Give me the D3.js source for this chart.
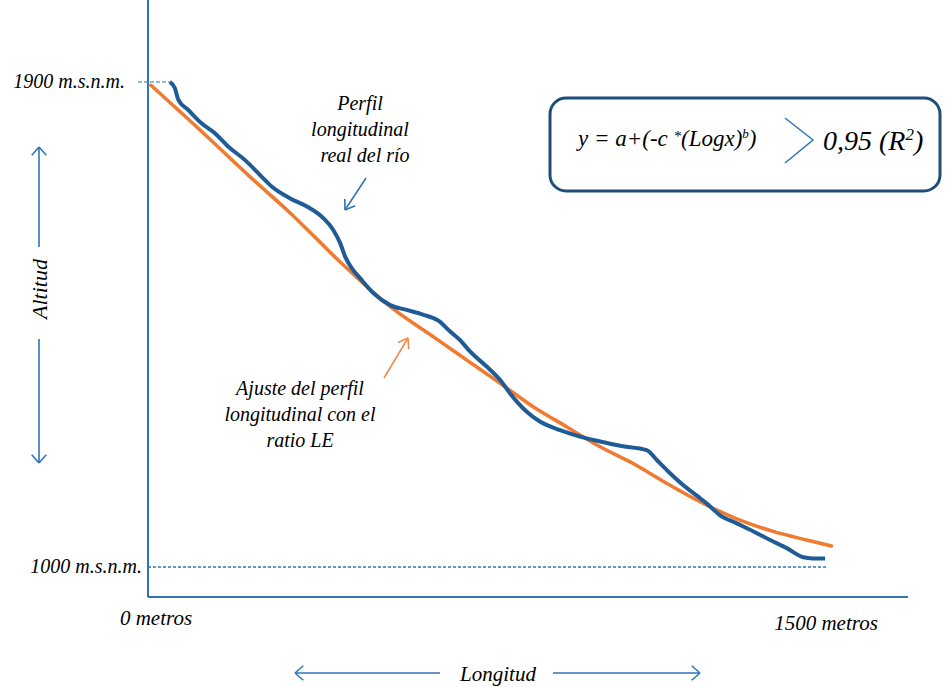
<!DOCTYPE html>
<html>
<head>
<meta charset="utf-8">
<script src="https://cdn.jsdelivr.net/npm/d3@7"></script>
<style>
  body { margin: 0; background: #fff; }
</style>
</head>
<body>
<div id="chart"></div>
<script>
// perfil longitudinal real del rio (metros, m.s.n.m.)
var distancia = [44, 55, 63, 85, 115, 144, 174, 211, 248, 270, 311, 348, 385, 407, 422, 433, 448, 466, 496, 533, 570,
  607, 640, 666, 688, 710, 747, 777, 799, 814, 836, 865, 910, 954, 999, 1043, 1102, 1124, 1154, 1183, 1217,
  1235, 1265, 1302, 1339, 1376, 1413, 1450, 1470, 1498];
var altitud = [1900, 1889, 1867, 1848, 1823, 1805, 1780, 1755, 1724, 1706, 1684, 1669, 1647, 1625, 1601, 1576, 1554, 1536, 1508, 1486, 1477,
  1468, 1457, 1437, 1421, 1400, 1372, 1347, 1322, 1307, 1288, 1270, 1254, 1242, 1233, 1225, 1217, 1199, 1174, 1152, 1130,
  1118, 1096, 1081, 1066, 1050, 1035, 1018, 1016, 1016];

// ajuste con el ratio LE
var ajusteDist = [2, 111, 222, 311, 422, 533, 629, 703, 777, 851, 925, 999, 1072, 1147, 1235, 1309, 1383, 1457, 1512];
var ajusteAlt = [1894, 1811, 1724, 1657, 1566, 1483, 1427, 1384, 1341, 1297, 1260, 1223, 1192, 1155, 1115, 1087, 1066, 1050, 1039];

var yTicks = [1900, 1000];
var yTickLabels = ["1900 m.s.n.m.", "1000 m.s.n.m."];
var xTicks = [0, 1500];
var xTickLabels = ["0 metros", "1500 metros"];

var width = 945, height = 687;
var FONT = "'Liberation Serif', 'Times New Roman', serif";

var svg = d3.select("#chart")
  .append("svg")
  .attr("width", width)
  .attr("height", height)
  .attr("font-family", FONT)
  .attr("font-style", "italic")
  .attr("fill", "#000");

var x = d3.scaleLinear().domain([0, 1500]).range([150, 826]);
var y = d3.scaleLinear().domain([1000, 1900]).range([567, 82]);

var axisBlue = "#2e75b6";

// reference lines for the two altitudes
svg.append("line")
  .attr("x1", x(0) - 12).attr("x2", x(distancia[0]))
  .attr("y1", y(1900)).attr("y2", y(1900))
  .attr("stroke", axisBlue).attr("stroke-width", 1.2)
  .attr("stroke-dasharray", "4,2");
svg.append("line")
  .attr("x1", x(0) - 2).attr("x2", x(1500))
  .attr("y1", y(1000)).attr("y2", y(1000))
  .attr("stroke", axisBlue).attr("stroke-width", 1.5)
  .attr("stroke-dasharray", "3,2");

// axes (no ticks, only the frame)
svg.append("line")
  .attr("x1", 148).attr("x2", 148).attr("y1", 0).attr("y2", 597)
  .attr("stroke", axisBlue).attr("stroke-width", 2);
svg.append("line")
  .attr("x1", 148).attr("x2", 908).attr("y1", 597).attr("y2", 597)
  .attr("stroke", axisBlue).attr("stroke-width", 2);

// tick labels
var yLabelEnd = [125, 142];
svg.selectAll(".ylab")
  .data(yTicks)
  .enter()
  .append("text")
  .attr("class", "ylab")
  .attr("x", function (d, i) { return yLabelEnd[i]; })
  .attr("y", function (d) { return y(d) + 6; })
  .attr("text-anchor", "end")
  .style("font-size", "20px")
  .text(function (d, i) { return yTickLabels[i]; });

var xLabelY = [625, 630];
svg.selectAll(".xlab")
  .data(xTicks)
  .enter()
  .append("text")
  .attr("class", "xlab")
  .attr("x", function (d) { return x(d) + (d == 0 ? 6 : 0); })
  .attr("y", function (d, i) { return xLabelY[i]; })
  .attr("text-anchor", "middle")
  .style("font-size", "21px")
  .text(function (d, i) { return xTickLabels[i]; });

// fitted curve
var ajuste = ajusteDist.map(function (d, i) { return { x: d, y: ajusteAlt[i] }; });
svg.append("path")
  .datum(ajuste)
  .attr("fill", "none")
  .attr("stroke", "#f07a30")
  .attr("stroke-width", 3.5)
  .attr("stroke-linecap", "round")
  .attr("d", d3.line()
    .x(function (d) { return x(d.x); })
    .y(function (d) { return y(d.y); })
    .curve(d3.curveMonotoneX));

// real profile
var perfil = distancia.map(function (d, i) { return { x: d, y: altitud[i] }; });
svg.append("path")
  .datum(perfil)
  .attr("fill", "none")
  .attr("stroke", "#1f5c96")
  .attr("stroke-width", 4)
  .attr("stroke-linejoin", "round")
  .attr("d", d3.line()
    .x(function (d) { return x(d.x); })
    .y(function (d) { return y(d.y); })
    .curve(d3.curveMonotoneX));

// arrows
function arrow(x1, y1, x2, y2, color, head, spread) {
  var a = Math.atan2(y2 - y1, x2 - x1);
  var g = svg.append("g")
    .attr("stroke", color)
    .attr("stroke-width", 1.6)
    .attr("fill", "none");
  g.append("line").attr("x1", x1).attr("y1", y1).attr("x2", x2).attr("y2", y2);
  [a + Math.PI - spread, a + Math.PI + spread].forEach(function (b) {
    g.append("line")
      .attr("x1", x2).attr("y1", y2)
      .attr("x2", x2 + head * Math.cos(b)).attr("y2", y2 + head * Math.sin(b));
  });
}

// Altitud
arrow(39, 247, 39, 147, axisBlue, 11, 0.72);
arrow(39, 339, 39, 463, axisBlue, 11, 0.72);
svg.append("text")
  .attr("transform", "translate(47,289) rotate(-90)")
  .attr("text-anchor", "middle")
  .style("font-size", "22px")
  .text("Altitud");

// Longitud
arrow(440, 673, 295, 673, axisBlue, 11, 0.72);
arrow(553, 673, 700, 673, axisBlue, 11, 0.72);
svg.append("text")
  .attr("x", 498).attr("y", 681)
  .attr("text-anchor", "middle")
  .style("font-size", "21px")
  .text("Longitud");

// annotation: real profile
var perfilNota = ["Perfil", "longitudinal", "real del río"];
svg.append("g")
  .selectAll("text")
  .data(perfilNota)
  .enter()
  .append("text")
  .attr("x", function (d, i) { return i == 2 ? 365 : 360; })
  .attr("y", function (d, i) { return 110 + i * 26; })
  .attr("text-anchor", "middle")
  .style("font-size", "20px")
  .text(function (d) { return d; });
arrow(366, 178, 345, 210, axisBlue, 11, 0.6);

// annotation: fitted profile
var ajusteNota = ["Ajuste del perfil", "longitudinal con el", "ratio LE"];
svg.append("g")
  .selectAll("text")
  .data(ajusteNota)
  .enter()
  .append("text")
  .attr("x", 300)
  .attr("y", function (d, i) { return 395 + i * 26; })
  .attr("text-anchor", "middle")
  .style("font-size", "20px")
  .text(function (d) { return d; });
arrow(384, 378, 408, 338, "#f28a4a", 11, 0.6);

// equation box
svg.append("rect")
  .attr("x", 550).attr("y", 98)
  .attr("width", 390).attr("height", 93)
  .attr("rx", 16)
  .attr("fill", "#fff")
  .attr("stroke", "#1f4e79")
  .attr("stroke-width", 3);

var eq = svg.append("text")
  .attr("x", 578).attr("y", 146)
  .style("font-size", "23px");
eq.append("tspan").text("y = a+(-c ");
eq.append("tspan").attr("dy", -5).style("font-size", "15px").text("*");
eq.append("tspan").attr("dy", 5).text("(Logx)");
eq.append("tspan").attr("dy", -8).style("font-size", "13px").text("b");
eq.append("tspan").attr("dy", 8).text(")");

svg.append("polyline")
  .attr("points", "785,118 813,140 785,163")
  .attr("fill", "none")
  .attr("stroke", axisBlue)
  .attr("stroke-width", 1.5);

var r2 = svg.append("text")
  .attr("x", 823).attr("y", 150)
  .style("font-size", "28px");
r2.append("tspan").text("0,95 (R");
r2.append("tspan").attr("dy", -10).style("font-size", "17px").text("2");
r2.append("tspan").attr("dy", 10).text(")");
</script>
</body>
</html>
